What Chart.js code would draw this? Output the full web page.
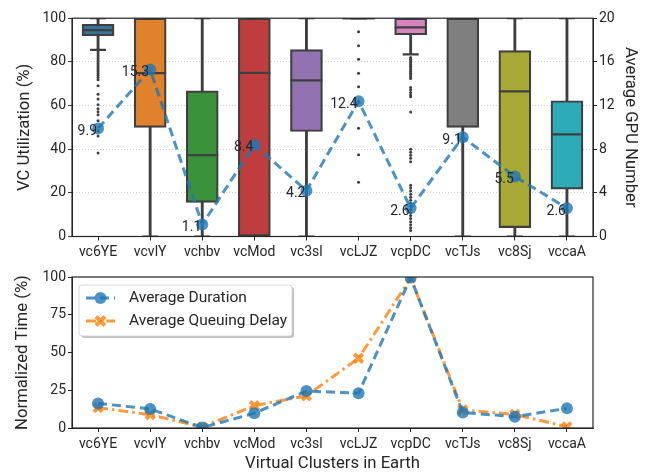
<!DOCTYPE html>
<html lang="en">
    <head>
        <meta charset="UTF-8" />
        <title>VC Utilization and Normalized Time</title>
        <script src="https://cdn.jsdelivr.net/npm/chart.js@4.4.0/dist/chart.umd.min.js"></script>
        <style>
            html, body {
                margin: 0;
                padding: 0;
                background: #ffffff;
            }
            .wrap {
                position: relative;
                width: 649px;
                height: 474px;
            }
            #topBox {
                position: absolute;
                left: 0;
                top: 0;
                width: 649px;
                height: 264px;
            }
            #bottomBox {
                position: absolute;
                left: 0;
                top: 264px;
                width: 649px;
                height: 210px;
            }
        </style>
    </head>
    <body>
        <div class="wrap">
            <div id="topBox"><canvas id="utilChart"></canvas></div>
            <div id="bottomBox"><canvas id="timeChart"></canvas></div>
        </div>

        <script>
            // Virtual clusters
            const clusters = ["vc6YE", "vcvlY", "vchbv", "vcMod", "vc3sl", "vcLJZ", "vcpDC", "vcTJs", "vc8Sj", "vccaA"];

            // VC utilization box stats (%)
            const boxQ1 = [92.0, 50.0, 15.6, 0.0, 48.1, 99.6, 92.4, 50.0, 4.1, 21.7];
            const boxQ3 = [97.2, 100, 66.7, 100, 85.6, 100, 100, 100, 85.2, 62.2];
            const boxMedian = [94.5, 74.8, 37.3, 75.0, 71.5, 100, 95.8, 100, 66.5, 46.8];
            const whiskerLow = [85.5, 0, 0, 0, 0, 100, 83.4, 0, 0, 0];
            const whiskerHigh = [100, 100, 100, 100, 100, 100, 100, 100, 100, 100];

            // fliers
            const fliers6YE = [84.5, 83.6, 82.7, 81.8, 80.9, 80.0, 79.1, 78.2, 77.3, 76.4, 75.5, 74.6, 73.7, 72.8, 71.8, 69.0, 65.2, 63.0, 60.3, 58.5, 57.1, 55.8, 53.0, 48.3, 46.0, 38.2];
            const fliersLJZ = [93.8, 87.4, 81.2, 74.8, 68.6, 61.9, 49.6, 37.5, 24.9];
            const fliersPDC = [82.0, 81.2, 80.4, 79.6, 78.8, 78.0, 77.2, 76.4, 75.6, 74.8, 74.0, 73.2, 72.4, 68.2, 67.2, 66.0, 64.8, 64.0, 57.0, 40.0, 38.6, 37.2, 35.8, 34.2, 23.5, 22.2, 20.8, 19.4, 18.0, 16.6, 15.2, 13.8, 12.4, 11.0, 9.6, 8.2, 6.8, 5.4, 4.0, 2.8];

            // Average GPU number (right axis)
            const gpuAvg = [9.9, 15.3, 1.1, 8.4, 4.2, 12.4, 2.6, 9.1, 5.5, 2.6];

            // Normalized time (%)
            const avgDuration = [16.3, 12.6, 0.3, 9.8, 24.5, 23.0, 99.6, 10.3, 7.5, 13.0];
            const avgQueuing = [13.5, 8.8, 0.6, 14.8, 21.3, 46.2, 99.3, 12.0, 9.0, 0.8];

            const boxColors = ["#3274a1", "#e1812c", "#3a923a", "#c03d3e", "#9372b2", "#845b53", "#d684bd", "#7f7f7f", "#a9aa35", "#2eabb8"];

            const ink = "#3f3f3f";
            const axisInk = "#262626";
            const lineBlue = "rgba(31,119,180,0.8)";
            const lineOrange = "rgba(255,127,14,0.8)";

            Chart.defaults.font.family = "Roboto, 'DejaVu Sans', sans-serif";
            Chart.defaults.font.size = 14;
            Chart.defaults.color = axisInk;
            Chart.defaults.animation = false;

            let flierPoints = [];
            fliers6YE.forEach((v) => flierPoints.push({ x: "vc6YE", y: v }));
            fliersLJZ.forEach((v) => flierPoints.push({ x: "vcLJZ", y: v }));
            fliersPDC.forEach((v) => flierPoints.push({ x: "vcpDC", y: v }));

            // frame round the plot area
            const framePlugin = {
                id: "frame",
                afterDatasetsDraw(chart) {
                    const a = chart.chartArea;
                    const ctx = chart.ctx;
                    ctx.save();
                    ctx.strokeStyle = axisInk;
                    ctx.lineWidth = 1.2;
                    ctx.strokeRect(a.left, a.top, a.right - a.left, a.bottom - a.top);
                    ctx.restore();
                },
            };

            // value labels next to the GPU points
            const gpuLabelPlugin = {
                id: "gpuLabels",
                afterDatasetsDraw(chart) {
                    const idx = chart.data.datasets.findIndex((d) => d.label === "Average GPU Number");
                    const meta = chart.getDatasetMeta(idx);
                    const ctx = chart.ctx;
                    ctx.save();
                    ctx.font = "14px Roboto, 'DejaVu Sans', sans-serif";
                    ctx.fillStyle = axisInk;
                    ctx.textAlign = "right";
                    ctx.textBaseline = "middle";
                    meta.data.forEach((pt, i) => {
                        ctx.fillText(gpuAvg[i].toFixed(1), pt.x - 1, pt.y + 3);
                    });
                    ctx.restore();
                },
            };

            function gridColor(ctx) {
                if (!ctx.tick) return "transparent";
                return ctx.tick.value === 0 || ctx.tick.value === 100 ? "transparent" : "#c8c8c8";
            }

            new Chart(document.getElementById("utilChart"), {
                type: "bar",
                data: {
                    labels: clusters,
                    datasets: [
                        {
                            label: "Average GPU Number",
                            type: "line",
                            yAxisID: "y2",
                            data: gpuAvg,
                            borderColor: lineBlue,
                            backgroundColor: lineBlue,
                            borderWidth: 3,
                            borderDash: [9, 5],
                            pointRadius: 6,
                            pointBorderWidth: 0,
                            order: 1,
                        },
                        {
                            label: "median",
                            type: "line",
                            showLine: false,
                            data: boxMedian,
                            pointStyle: "line",
                            pointRadius: 16,
                            pointBorderWidth: 2.2,
                            borderColor: ink,
                            order: 3,
                        },
                        {
                            label: "capLow",
                            type: "line",
                            showLine: false,
                            data: whiskerLow,
                            pointStyle: "line",
                            pointRadius: 8,
                            pointBorderWidth: 2.2,
                            borderColor: ink,
                            order: 3,
                        },
                        {
                            label: "capHigh",
                            type: "line",
                            showLine: false,
                            data: whiskerHigh,
                            pointStyle: "line",
                            pointRadius: 8,
                            pointBorderWidth: 2.2,
                            borderColor: ink,
                            order: 3,
                        },
                        {
                            label: "fliers",
                            type: "line",
                            showLine: false,
                            data: flierPoints,
                            pointRadius: 1.5,
                            pointBorderWidth: 0,
                            backgroundColor: ink,
                            order: 3,
                        },
                        {
                            label: "box",
                            data: clusters.map((c, i) => [boxQ1[i], boxQ3[i]]),
                            backgroundColor: boxColors,
                            borderColor: ink,
                            borderWidth: 2.2,
                            borderSkipped: false,
                            barThickness: 32,
                            grouped: false,
                            order: 4,
                        },
                        {
                            label: "whisker",
                            data: clusters.map((c, i) => [whiskerLow[i], whiskerHigh[i]]),
                            backgroundColor: ink,
                            borderWidth: 0,
                            barThickness: 2.2,
                            grouped: false,
                            order: 5,
                        },
                    ],
                },
                options: {
                    responsive: true,
                    maintainAspectRatio: false,
                    layout: { padding: { top: 11, left: 0, right: 0, bottom: 0 } },
                    plugins: {
                        legend: { display: false },
                        tooltip: { enabled: false },
                    },
                    scales: {
                        x: {
                            offset: true,
                            grid: { offset: false, drawOnChartArea: false, tickLength: 4, tickColor: axisInk },
                            border: { color: axisInk },
                            ticks: { padding: 4, color: axisInk, font: { size: 14 } },
                            afterFit(scale) {
                                scale.height = 27.5;
                            },
                        },
                        y: {
                            min: 0,
                            max: 100,
                            ticks: { stepSize: 20, padding: 2, color: axisInk, font: { size: 14 } },
                            grid: { color: gridColor, lineWidth: 0.9, tickLength: 4, tickColor: axisInk, tickBorderDash: [] },
                            border: { color: axisInk, dash: [1, 2] },
                            title: { display: true, text: "VC Utilization (%)", font: { size: 16.7 }, padding: { top: 15, bottom: 0 } },
                            afterFit(scale) {
                                scale.width = 72;
                            },
                        },
                        y2: {
                            position: "right",
                            min: 0,
                            max: 20,
                            ticks: { stepSize: 4, padding: 2, color: axisInk, font: { size: 14 } },
                            grid: { drawOnChartArea: false, tickLength: 4, tickColor: axisInk },
                            border: { color: axisInk },
                            title: { display: true, text: "Average GPU Number", font: { size: 16.7 }, padding: { top: 9, bottom: 0 } },
                            afterFit(scale) {
                                scale.width = 56;
                            },
                        },
                    },
                },
                plugins: [framePlugin, gpuLabelPlugin],
            });

            // legend drawn like the plotting tool's boxed legend
            const boxLegendPlugin = {
                id: "boxLegend",
                afterDraw(chart) {
                    const a = chart.chartArea;
                    const ctx = chart.ctx;
                    const x = a.left + 7;
                    const y = a.top + 8;
                    const w = 213;
                    const h = 51;
                    ctx.save();
                    ctx.fillStyle = "rgba(0,0,0,0.25)";
                    roundRect(ctx, x + 2, y + 2, w, h, 3);
                    ctx.fill();
                    ctx.fillStyle = "#ffffff";
                    ctx.strokeStyle = "#d8d8d8";
                    ctx.lineWidth = 1;
                    roundRect(ctx, x, y, w, h, 3);
                    ctx.fill();
                    ctx.stroke();
                    chart.data.datasets.forEach((ds, i) => {
                        const ry = y + 13 + i * 23;
                        const lx = x + 7;
                        ctx.strokeStyle = ds.borderColor;
                        ctx.lineWidth = ds.borderWidth;
                        ctx.setLineDash(ds.borderDash);
                        ctx.beginPath();
                        ctx.moveTo(lx, ry);
                        ctx.lineTo(lx + 29, ry);
                        ctx.stroke();
                        ctx.setLineDash([]);
                        const mx = lx + 14.5;
                        if (ds.pointStyle === "crossRot") {
                            ctx.lineWidth = ds.pointBorderWidth;
                            const r = ds.pointRadius * 0.75;
                            ctx.beginPath();
                            ctx.moveTo(mx - r, ry - r);
                            ctx.lineTo(mx + r, ry + r);
                            ctx.moveTo(mx + r, ry - r);
                            ctx.lineTo(mx - r, ry + r);
                            ctx.stroke();
                        } else {
                            ctx.fillStyle = ds.backgroundColor;
                            ctx.beginPath();
                            ctx.arc(mx, ry, ds.pointRadius, 0, Math.PI * 2);
                            ctx.fill();
                        }
                        ctx.fillStyle = axisInk;
                        ctx.font = "15.5px Roboto, 'DejaVu Sans', sans-serif";
                        ctx.textAlign = "left";
                        ctx.textBaseline = "middle";
                        ctx.fillText(ds.label, lx + 43, ry);
                    });
                    ctx.restore();
                },
            };

            function roundRect(ctx, x, y, w, h, r) {
                ctx.beginPath();
                ctx.moveTo(x + r, y);
                ctx.lineTo(x + w - r, y);
                ctx.arcTo(x + w, y, x + w, y + r, r);
                ctx.lineTo(x + w, y + h - r);
                ctx.arcTo(x + w, y + h, x + w - r, y + h, r);
                ctx.lineTo(x + r, y + h);
                ctx.arcTo(x, y + h, x, y + h - r, r);
                ctx.lineTo(x, y + r);
                ctx.arcTo(x, y, x + r, y, r);
                ctx.closePath();
            }

            new Chart(document.getElementById("timeChart"), {
                type: "line",
                data: {
                    labels: clusters,
                    datasets: [
                        {
                            label: "Average Duration",
                            data: avgDuration,
                            borderColor: lineBlue,
                            backgroundColor: lineBlue,
                            borderWidth: 3,
                            borderDash: [9, 5],
                            pointRadius: 6,
                            pointBorderWidth: 0,
                        },
                        {
                            label: "Average Queuing Delay",
                            data: avgQueuing,
                            borderColor: lineOrange,
                            backgroundColor: lineOrange,
                            borderWidth: 3,
                            borderDash: [10, 4, 2.5, 4],
                            pointStyle: "crossRot",
                            pointRadius: 6,
                            pointBorderWidth: 4,
                        },
                    ],
                },
                options: {
                    responsive: true,
                    maintainAspectRatio: false,
                    layout: { padding: { top: 13, left: 0, right: 56, bottom: 0 } },
                    plugins: {
                        legend: { display: false },
                        tooltip: { enabled: false },
                    },
                    scales: {
                        x: {
                            offset: true,
                            grid: { offset: false, drawOnChartArea: false, tickLength: 4, tickColor: axisInk },
                            border: { color: axisInk },
                            ticks: { padding: 4, color: axisInk, font: { size: 14 } },
                            title: { display: true, text: "Virtual Clusters in Earth", font: { size: 16.7 }, padding: { top: 0, bottom: 0 } },
                            afterFit(scale) {
                                scale.height = 46;
                            },
                        },
                        y: {
                            min: 0,
                            max: 100,
                            ticks: { stepSize: 25, padding: 2, color: axisInk, font: { size: 14 } },
                            grid: { drawOnChartArea: false, tickLength: 4, tickColor: axisInk },
                            border: { color: axisInk },
                            title: { display: true, text: "Normalized Time (%)", font: { size: 16.7 }, padding: { top: 13, bottom: 0 } },
                            afterFit(scale) {
                                scale.width = 72;
                            },
                        },
                    },
                },
                plugins: [framePlugin, boxLegendPlugin],
            });
        </script>
    </body>
</html>
